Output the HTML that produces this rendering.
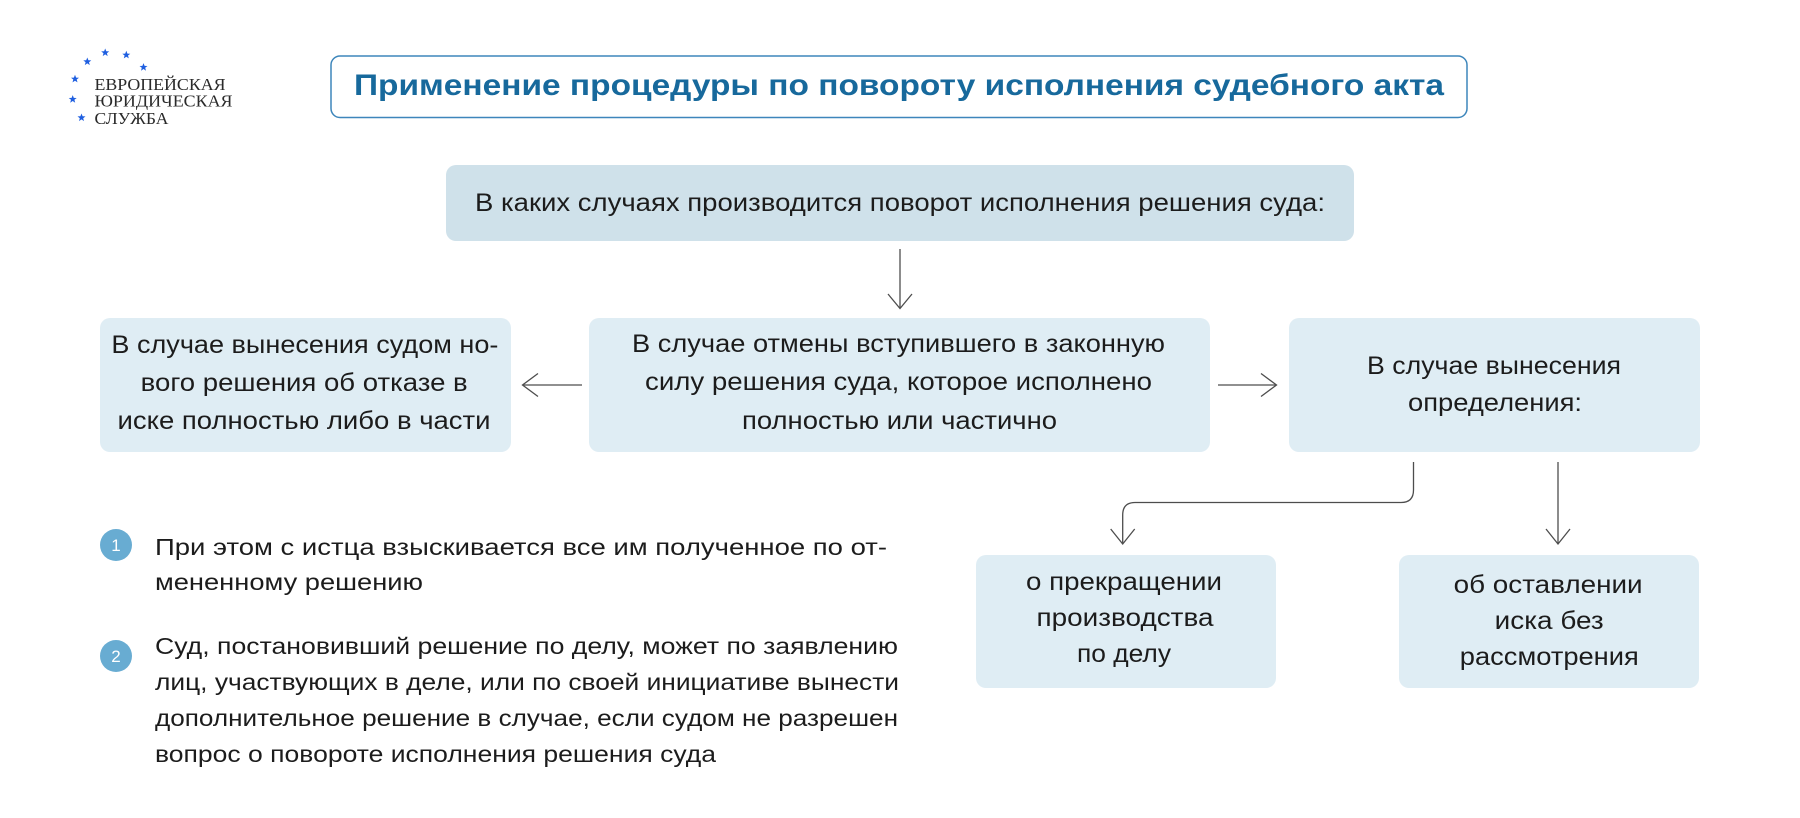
<!DOCTYPE html>
<html>
<head>
<meta charset="utf-8">
<style>
  html,body{margin:0;padding:0;background:#fff;}
  svg{display:block;}
  .t{font-family:"Liberation Sans","DejaVu Sans",sans-serif;font-size:25px;fill:#1c1c1c;}
  .l{font-family:"Liberation Sans","DejaVu Sans",sans-serif;font-size:23px;fill:#1c1c1c;}
  .logo{font-family:"Liberation Serif","DejaVu Serif",serif;font-size:16.5px;fill:#2a2a2a;}
  .ttl{font-family:"Liberation Sans","DejaVu Sans",sans-serif;font-size:30px;font-weight:bold;fill:#17699c;}
  .num{font-family:"Liberation Sans","DejaVu Sans",sans-serif;font-size:17px;fill:#ffffff;}
  .ar{fill:none;stroke:#4d4d4d;stroke-width:1.3;}
</style>
</head>
<body>
<svg width="1800" height="818" viewBox="0 0 1800 818" xmlns="http://www.w3.org/2000/svg">
  <rect x="0" y="0" width="1800" height="818" fill="#ffffff"/>

  <!-- Logo stars -->
  <defs>
    <polygon id="star" points="0,-4.2 1.1,-1.4 4,-1.3 1.7,0.5 2.5,3.4 0,1.7 -2.5,3.4 -1.7,0.5 -4,-1.3 -1.1,-1.4" fill="#1f5fe0"/>
  </defs>
  <use href="#star" x="105.2" y="52.7"/>
  <use href="#star" x="126.3" y="55"/>
  <use href="#star" x="87.3" y="61.7"/>
  <use href="#star" x="143.5" y="67.3"/>
  <use href="#star" x="75" y="79"/>
  <use href="#star" x="72.7" y="99.3"/>
  <use href="#star" x="81.5" y="117.7"/>
  <text class="logo" x="94.5" y="90" textLength="131" lengthAdjust="spacingAndGlyphs">ЕВРОПЕЙСКАЯ</text>
  <text class="logo" x="94.5" y="106.7" textLength="138" lengthAdjust="spacingAndGlyphs">ЮРИДИЧЕСКАЯ</text>
  <text class="logo" x="94.5" y="124" textLength="74" lengthAdjust="spacingAndGlyphs">СЛУЖБА</text>

  <!-- Title -->
  <rect x="331" y="56" width="1136" height="61.5" rx="9" ry="9" fill="#ffffff" stroke="#3d86bb" stroke-width="1.5"/>
  <text class="ttl" x="354" y="95" textLength="1090" lengthAdjust="spacingAndGlyphs">Применение процедуры по повороту исполнения судебного акта</text>

  <!-- Top box -->
  <rect x="446" y="165" width="908" height="76" rx="10" ry="10" fill="#cfe1ea"/>
  <text class="t" x="475" y="211" textLength="850" lengthAdjust="spacingAndGlyphs">В каких случаях производится поворот исполнения решения суда:</text>

  <!-- Down arrow -->
  <line class="ar" x1="900" y1="249" x2="900" y2="308"/>
  <polyline class="ar" points="888,294 900,308.5 912,294"/>

  <!-- Left box -->
  <rect x="100" y="318" width="411" height="134" rx="10" ry="10" fill="#dfedf4"/>
  <text class="t" x="111.4" y="353" textLength="387" lengthAdjust="spacingAndGlyphs">В случае вынесения судом но-</text>
  <text class="t" x="140.7" y="391" textLength="327" lengthAdjust="spacingAndGlyphs">вого решения об отказе в</text>
  <text class="t" x="117.5" y="429" textLength="373" lengthAdjust="spacingAndGlyphs">иске полностью либо в части</text>

  <!-- Middle box -->
  <rect x="589" y="318" width="621" height="134" rx="10" ry="10" fill="#dfedf4"/>
  <text class="t" x="632" y="352" textLength="533" lengthAdjust="spacingAndGlyphs">В случае отмены вступившего в законную</text>
  <text class="t" x="645" y="390" textLength="507" lengthAdjust="spacingAndGlyphs">силу решения суда, которое исполнено</text>
  <text class="t" x="742" y="429" textLength="315" lengthAdjust="spacingAndGlyphs">полностью или частично</text>

  <!-- Right box -->
  <rect x="1289" y="318" width="411" height="134" rx="10" ry="10" fill="#dfedf4"/>
  <text class="t" x="1367" y="374" textLength="254" lengthAdjust="spacingAndGlyphs">В случае вынесения</text>
  <text class="t" x="1408" y="411" textLength="174" lengthAdjust="spacingAndGlyphs">определения:</text>

  <!-- Left arrow -->
  <line class="ar" x1="582" y1="385" x2="523" y2="385"/>
  <polyline class="ar" points="538,373.5 522.5,385 538,396.5"/>

  <!-- Right arrow -->
  <line class="ar" x1="1218" y1="385" x2="1276" y2="385"/>
  <polyline class="ar" points="1261,373.5 1276.5,385 1261,396.5"/>

  <!-- Connector from right box to bottom box 1 -->
  <path class="ar" d="M1413.5,462 V490 Q1413.5,502.5 1401,502.5 H1135 Q1122.7,502.5 1122.7,515 V543.5"/>
  <polyline class="ar" points="1110.7,529 1122.7,544 1134.7,529"/>

  <!-- Connector to bottom box 2 -->
  <line class="ar" x1="1558" y1="462" x2="1558" y2="543.5"/>
  <polyline class="ar" points="1546,529 1558,544 1570,529"/>

  <!-- Bottom box 1 -->
  <rect x="976" y="555" width="300" height="133" rx="10" ry="10" fill="#dfedf4"/>
  <text class="t" x="1026" y="590" textLength="196" lengthAdjust="spacingAndGlyphs">о прекращении</text>
  <text class="t" x="1036.5" y="626" textLength="177" lengthAdjust="spacingAndGlyphs">производства</text>
  <text class="t" x="1077" y="662" textLength="94" lengthAdjust="spacingAndGlyphs">по делу</text>

  <!-- Bottom box 2 -->
  <rect x="1399" y="555" width="300" height="133" rx="10" ry="10" fill="#dfedf4"/>
  <text class="t" x="1453.6" y="593" textLength="189" lengthAdjust="spacingAndGlyphs">об оставлении</text>
  <text class="t" x="1494.7" y="629" textLength="109" lengthAdjust="spacingAndGlyphs">иска без</text>
  <text class="t" x="1459.8" y="665" textLength="179" lengthAdjust="spacingAndGlyphs">рассмотрения</text>

  <!-- Numbered list -->
  <circle cx="116" cy="545" r="16" fill="#68acd2"/>
  <text class="num" x="116" y="551" text-anchor="middle">1</text>
  <text class="l" x="155" y="555" textLength="732" lengthAdjust="spacingAndGlyphs">При этом с истца взыскивается все им полученное по от-</text>
  <text class="l" x="155" y="590" textLength="268" lengthAdjust="spacingAndGlyphs">мененному решению</text>

  <circle cx="116" cy="656" r="16" fill="#68acd2"/>
  <text class="num" x="116" y="662" text-anchor="middle">2</text>
  <text class="l" x="155" y="654" textLength="743" lengthAdjust="spacingAndGlyphs">Суд, постановивший решение по делу, может по заявлению</text>
  <text class="l" x="155" y="690" textLength="744" lengthAdjust="spacingAndGlyphs">лиц, участвующих в деле, или по своей инициативе вынести</text>
  <text class="l" x="155" y="726" textLength="743" lengthAdjust="spacingAndGlyphs">дополнительное решение в случае, если судом не разрешен</text>
  <text class="l" x="155" y="762" textLength="561" lengthAdjust="spacingAndGlyphs">вопрос о повороте исполнения решения суда</text>
</svg>
</body>
</html>
